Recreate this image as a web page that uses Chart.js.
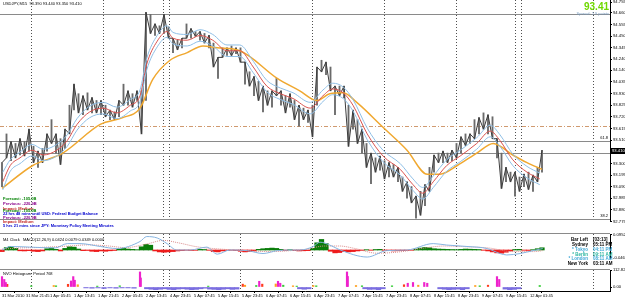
<!DOCTYPE html>
<html>
<head>
<meta charset="utf-8">
<title>USDJPY,M15</title>
<script src="https://cdn.jsdelivr.net/npm/chart.js@4.4.1/dist/chart.umd.min.js"></script>
<style>
  html, body { margin: 0; padding: 0; background: #fff; }
  #wrap { position: relative; width: 625px; height: 301px; overflow: hidden; }
  #wrap canvas { position: absolute; left: 0; }
</style>
</head>
<body>
<div id="wrap">
  <canvas id="main" width="625" height="236" style="top:0"></canvas>
  <canvas id="macd" width="625" height="40" style="top:231px"></canvas>
  <canvas id="nvo" width="625" height="34" style="top:267px"></canvas>
</div>
<script>
(function () {
    'use strict';

    // ------------------------------------------------------------------
    // Data (x = bar index on the M15 chart)
    // ------------------------------------------------------------------
    var sampleBars = [0,6,12,18,24,30,36,42,48,54,60,66,72,78,84,90,96,102,108,114,
        120,126,132,138,144,150,156,162,168,174,180,186,192,198,204,210,216,222,228,234,
        240,246,252,258,264,270,276,282,288,294,300,306,312,318,324,330,336,342,348,354,
        360,366,372,378,384,390,396,402,408,414,420,426,432,438,444,450,456,462,468,474,
        480,486,492,498,504,510,516,522,528,534,540,546,552,558,564,570,576,582,588,594,
        600,606,612,618,624,630,636,642,648,654,660,666,672,678,684,690,696,702,708,714,
        720];

    var priceHigh = [93.307,93.566,93.497,93.480,93.523,93.497,93.609,93.454,93.411,93.436,
        93.566,93.695,93.566,93.523,93.609,93.825,94.015,93.929,93.911,93.937,
        93.894,93.868,93.868,93.825,93.782,93.765,93.868,94.015,93.955,93.929,
        93.955,93.955,94.663,94.645,94.559,94.542,94.645,94.533,94.430,94.412,
        94.430,94.559,94.516,94.490,94.490,94.473,94.455,94.386,94.257,94.343,
        94.343,94.360,94.343,94.343,94.214,94.127,94.084,94.041,93.998,93.955,
        93.955,94.067,93.955,93.911,93.929,93.868,93.825,93.799,93.782,93.825,
        94.170,94.231,94.214,94.170,93.998,93.998,93.998,93.825,93.782,93.695,
        93.609,93.480,93.393,93.350,93.367,93.324,93.307,93.290,93.264,93.177,
        93.134,93.091,93.005,93.048,93.108,93.264,93.376,93.393,93.411,93.393,
        93.419,93.480,93.540,93.566,93.566,93.695,93.713,93.756,93.739,93.721,
        93.523,93.393,93.264,93.221,93.221,93.177,93.203,93.221,93.195,93.264,
        93.419];

    var priceLow = [93.091,93.350,93.324,93.350,93.376,93.367,93.411,93.307,93.264,93.307,
        93.411,93.480,93.393,93.290,93.436,93.566,93.782,93.756,93.739,93.782,
        93.756,93.756,93.739,93.721,93.695,93.695,93.721,93.825,93.825,93.808,
        93.868,93.566,93.868,94.473,94.455,94.473,94.473,94.430,94.300,94.326,
        94.343,94.430,94.430,94.447,94.412,94.386,94.343,94.170,94.067,94.257,
        94.274,94.274,94.291,94.214,94.015,93.998,93.911,93.868,93.765,93.825,
        93.808,93.911,93.825,93.756,93.808,93.695,93.635,93.695,93.670,93.540,
        93.825,94.127,94.101,93.955,93.739,93.911,93.894,93.454,93.609,93.480,
        93.393,93.264,93.117,93.221,93.238,93.160,93.177,93.177,93.134,93.048,
        92.987,92.944,92.806,92.832,92.918,93.048,93.221,93.307,93.307,93.307,
        93.324,93.350,93.393,93.462,93.480,93.523,93.566,93.609,93.566,93.523,
        93.350,93.074,93.134,93.134,93.005,93.048,93.091,93.065,93.048,93.134,
        93.221];

    var redBars = [1,11,24,40,55,73,87,100,117,135,153,171,184,193,207,220,228,247,264,281,
        300,317,335,353,371,388,411,428,441,455,468,487,508,531,548,561,575,593,611,633,
        651,664,681,700,717];
    var redMA = [93.134,93.281,93.350,93.419,93.376,93.419,93.506,93.652,93.765,93.799,
        93.756,93.825,93.911,94.196,94.404,94.490,94.430,94.412,94.455,94.412,
        94.317,94.317,94.170,93.998,93.929,93.886,93.799,93.911,93.972,93.937,
        93.825,93.566,93.367,93.246,93.108,93.031,93.134,93.281,93.367,93.480,
        93.592,93.506,93.333,93.221,93.160];
    var upperBand = [93.220,93.333,93.402,93.471,93.428,93.471,93.558,93.704,93.817,93.851,
        93.808,93.877,93.963,94.248,94.456,94.542,94.482,94.464,94.507,94.464,
        94.369,94.369,94.222,94.050,93.981,93.938,93.851,93.963,94.024,93.989,
        93.877,93.618,93.419,93.298,93.160,93.083,93.186,93.333,93.419,93.532,
        93.644,93.558,93.385,93.273,93.212];
    var lowerBand = [93.060,93.229,93.298,93.367,93.324,93.367,93.454,93.600,93.713,93.747,
        93.704,93.773,93.859,94.144,94.352,94.438,94.378,94.360,94.403,94.360,
        94.265,94.265,94.118,93.946,93.877,93.834,93.747,93.859,93.920,93.885,
        93.773,93.514,93.315,93.194,93.056,92.979,93.082,93.229,93.315,93.428,
        93.540,93.454,93.281,93.169,93.108];

    var orangeBars = [0,41,81,131,161,184,201,224,247,268,287,317,367,397,420,437,455,473,
        508,540,567,584,607,633,655,681,700,720];
    var orangeMA = [93.074,93.281,93.393,93.652,93.713,93.799,94.058,94.231,94.300,94.360,
        94.343,94.317,94.067,93.955,93.868,93.929,93.937,93.851,93.626,93.419,
        93.203,93.203,93.281,93.393,93.480,93.376,93.307,93.246];

    var priceTicks = [94.755,94.660,94.555,94.450,94.345,94.240,94.140,94.035,93.930,93.825,
        93.720,93.615,93.510,93.300,93.195,93.090,92.985,92.880,92.775];
    var solidLevels = [94.645, 93.506, 93.393, 92.797];
    var dashLevels = [93.635];
    var lastPrice = 93.410;

    var separatorBars = [39,135,215,223,413,509,605,684,692,788];
    var subSeparatorBars = [39,135,215,223,317,413,509,605,684,692,788];

    var timeBars = [0,32,64,96,128,160,192,224,256,288,320,352,384,416,448,480,512,544,576,608,640,672,704];
    var timeLabels = ['31 Mar 2010','31 Mar 21:45','1 Apr 05:45','1 Apr 13:45','1 Apr 21:45',
        '2 Apr 05:45','2 Apr 13:45','4 Apr 23:45','5 Apr 07:45','5 Apr 15:45','5 Apr 23:45',
        '6 Apr 07:45','6 Apr 15:45','6 Apr 23:45','7 Apr 07:45','7 Apr 15:45','7 Apr 23:45',
        '8 Apr 07:45','8 Apr 15:45','8 Apr 23:45','9 Apr 07:45','9 Apr 15:45','12 Apr 01:45'];

    var macdHist = [-0.010,0.015,0.022,0.010,-0.005,-0.006,-0.004,-0.008,-0.010,-0.006,
        0.008,0.012,0.004,-0.006,0.010,0.020,0.018,0.006,-0.004,-0.003,
        -0.008,-0.010,-0.006,-0.008,-0.005,-0.003,0.006,0.010,0.006,0.004,
        0.002,0.020,0.035,0.030,-0.006,-0.012,-0.014,-0.012,-0.010,-0.006,
        -0.004,-0.002,-0.003,-0.002,0.004,0.003,-0.002,-0.010,-0.012,-0.006,
        -0.003,-0.002,-0.004,-0.008,-0.012,-0.010,-0.006,0.004,0.008,0.010,
        0.012,0.010,0.004,-0.003,0.002,-0.004,-0.006,-0.005,-0.004,0.010,
        0.045,0.066,0.040,-0.008,-0.018,-0.016,-0.010,-0.012,-0.010,-0.006,
        -0.003,0.002,-0.002,0.003,0.004,-0.002,-0.004,-0.006,-0.005,-0.004,
        -0.003,-0.002,0.006,0.012,0.016,0.014,0.008,0.006,0.005,0.004,
        0.003,0.002,0.004,0.006,0.005,0.004,0.003,-0.002,-0.006,-0.012,
        -0.018,-0.020,-0.014,-0.006,0.003,0.004,-0.002,-0.003,0.002,0.008,
        0.014];
    var macdLineBars = [0,11,37,71,87,104,131,153,184,193,207,220,233,251,273,287,304,327,348,367,
        384,397,415,424,437,451,487,513,540,575,593,620,647,664,673,691,708,721];
    var macdLine = [0,0.022,0.018,0.013,0.040,0.040,0.022,0.009,0.053,0.084,
        0.075,0.040,0,0,0.018,-0.026,0,-0.004,-0.022,-0.004,
        0,0,0.022,0.049,0.031,0,-0.044,-0.004,0,0.040,
        0.031,0.022,0.009,-0.022,-0.031,-0.022,-0.004,0.009];
    var signalBars = [0,20,50,90,115,140,165,195,215,235,260,285,310,340,360,385,405,430,450,470,
        500,530,560,590,620,650,680,710,721];
    var signalLine = [0.005,0.012,0.016,0.025,0.032,0.026,0.015,0.040,0.060,0.045,
        0.020,0.008,0.000,-0.008,-0.010,-0.004,0.004,0.025,0.025,0.010,
        -0.020,-0.012,0.010,0.025,0.020,0.012,-0.010,-0.010,-0.004];
    var macdTicks = [0.0952, -0.0461];

    var nvoDownBars = [112,120,128,136,144,152,160,168,176,
        193,199,205,211,217,223,229,235,241,247,253,259,265,271,277,283,289,295,301,307,313,
        397,403,409, 484,490,496,502,508, 584,590,596,602,608,614,620, 671,677,683,689];
    var nvoDownVals = [-6,-8,-6,-10,-6,-8,-6,-6,-8,
        -12,-15,-18,-15,-12,-16,-18,-14,-12,-15,-18,-16,-12,-8,-14,-16,-18,-15,-12,-16,-14,
        -12,-15,-12, -12,-16,-15,-18,-12, -12,-15,-18,-16,-14,-18,-12, -14,-18,-16,-12];
    var nvoPinkBars = [0,3,5,92,95,97,184,185,343,368,371,460,461,541,548,563,567,660,663];
    var nvoPinkVals = [69,50,30,40,69,45,100,60,38,38,25,100,70,25,30,30,25,69,50];
    var nvoGreenBars = [39,72,127,157,275,339,375,393,419,480,520,637,717];
    var nvoGreenVals = [8,8,6,8,6,10,12,6,8,8,8,8,10];
    var nvoOrangeBars = [69,101,324,365,388,415,472,555,631];
    var nvoOrangeVals = [10,15,12,20,8,10,10,12,10];
    var nvoRedBars = [7,88,321,347,536,648];
    var nvoRedVals = [18,18,19,19,15,12];
    var nvoTicks = [112.826, 0];

    // ------------------------------------------------------------------
    // Helpers
    // ------------------------------------------------------------------
    var FONT = '"Liberation Sans", Arial, sans-serif';
    var X_MIN = -2.667, X_MAX = 810.667;   // 0.75 px per bar over a 610px plot

    function pts(xs, ys) {
        return xs.map(function (x, i) { return { x: x, y: ys[i] }; });
    }
    function ranges(xs, lo, hi) {
        return xs.map(function (x, i) { return { x: x, y: [lo[i], hi[i]] }; });
    }
    // jagged trace through alternating highs and lows, so the bars read as one line
    function zigzag(xs, lo, hi) {
        return xs.map(function (x, i) { return { x: x, y: i % 2 ? lo[i] : hi[i] }; });
    }
    function lineDs(data, color, width, dash, smooth) {
        return {
            type: 'line', data: data, borderColor: color, borderWidth: width,
            borderDash: dash || [], pointRadius: 0, fill: false,
            cubicInterpolationMode: smooth === false ? 'default' : 'monotone'
        };
    }
    function barDs(data, color, thick) {
        return { type: 'bar', data: data, backgroundColor: color, barThickness: thick, grouped: false };
    }

    function xAxis(show) {
        return {
            type: 'linear', min: X_MIN, max: X_MAX, offset: false, display: show,
            grid: { drawOnChartArea: false, tickLength: 2, color: '#000' },
            border: { display: true, color: '#000' },
            afterBuildTicks: function (s) {
                s.ticks = timeBars.map(function (v) { return { value: v }; });
            },
            afterFit: function (s) {
                s.height = 10;
                s.paddingLeft = 0; s.paddingRight = 0;
            },
            ticks: {
                autoSkip: false, maxRotation: 0, minRotation: 0, align: 'start', padding: 0,
                font: { size: 4, family: FONT }, color: '#000',
                callback: function (v, i) { return timeLabels[i]; }
            }
        };
    }

    function yAxis(min, max, ticks, fmt) {
        return {
            position: 'right', min: min, max: max,
            grid: { drawOnChartArea: false, tickLength: 2, color: '#000' },
            border: { color: '#000' },
            afterBuildTicks: function (s) {
                s.ticks = ticks.map(function (v) { return { value: v }; });
            },
            afterFit: function (s) {
                s.width = 15;
                s.paddingTop = 0; s.paddingBottom = 0;
            },
            ticks: { autoSkip: false, padding: 1, font: { size: 4.2, family: FONT }, color: '#000', callback: fmt }
        };
    }

    function text(ctx, str, x, y, color, font, align) {
        ctx.font = font;
        ctx.fillStyle = color;
        ctx.textAlign = align || 'left';
        ctx.textBaseline = 'middle';
        ctx.fillText(str, x, y);
    }

    function drawSeparators(chart, bars) {
        var ctx = chart.ctx, a = chart.chartArea, xs = chart.scales.x;
        ctx.save();
        ctx.strokeStyle = '#505050';
        ctx.lineWidth = 1;
        ctx.setLineDash([1, 2]);
        bars.forEach(function (b) {
            var px = Math.round(xs.getPixelForValue(b)) + 0.5;
            ctx.beginPath(); ctx.moveTo(px, a.top); ctx.lineTo(px, a.bottom); ctx.stroke();
        });
        ctx.restore();
    }

    // ------------------------------------------------------------------
    // Overlays
    // ------------------------------------------------------------------
    var mainOverlay = {
        id: 'mainOverlay',
        beforeDatasetsDraw: function (chart) {
            var ctx = chart.ctx, a = chart.chartArea, ys = chart.scales.y;
            drawSeparators(chart, separatorBars);
            ctx.save();
            ctx.lineWidth = 1;
            ctx.strokeStyle = '#8a8a8a';
            solidLevels.forEach(function (p) {
                var py = Math.round(ys.getPixelForValue(p)) + 0.5;
                ctx.beginPath(); ctx.moveTo(a.left, py); ctx.lineTo(a.right, py); ctx.stroke();
            });
            ctx.strokeStyle = '#d09a70';
            ctx.setLineDash([4, 2, 1, 2]);
            dashLevels.forEach(function (p) {
                var py = Math.round(ys.getPixelForValue(p)) + 0.5;
                ctx.beginPath(); ctx.moveTo(a.left, py); ctx.lineTo(a.right, py); ctx.stroke();
            });
            ctx.restore();
        },
        afterDraw: function (chart) {
            var ctx = chart.ctx, ys = chart.scales.y;
            var small = '4px ' + FONT, smallB = 'bold 4px ' + FONT;
            ctx.save();
            text(ctx, 'USDJPY,M15  93.390 93.440 93.350 93.410', 3, 4, '#000', small);
            text(ctx, '93.41', 609, 7.5, '#6fd800', 'bold 10px ' + FONT, 'right');
            text(ctx, 'Spread: 2.9 points', 609, 14, '#7a9cbf', small, 'right');
            text(ctx, '61.8', 608, ys.getPixelForValue(solidLevels[1]) - 3, '#000', small, 'right');
            text(ctx, '38.2', 608, ys.getPixelForValue(solidLevels[3]) - 3, '#000', small, 'right');

            text(ctx, 'Forecast: -105.0B', 3, 199, '#008000', smallB);
            text(ctx, 'Previous: -220.9B', 3, 204, '#8b008b', smallB);
            text(ctx, 'Impact: Medium', 3, 208.5, '#c02020', smallB);
            text(ctx, 'Forecast: -105.0B', 3, 211, '#008000', smallB);
            text(ctx, '22 hrs 48 mins until USD: Federal Budget Balance', 3, 213.5, '#0000cd', smallB);
            text(ctx, 'Previous: -220.9B', 3, 217.5, '#8b008b', smallB);
            text(ctx, 'Impact: Medium', 3, 221.5, '#c02020', smallB);
            text(ctx, '5 hrs 21 mins since JPY: Monetary Policy Meeting Minutes', 3, 226, '#0000cd', smallB);

            // bid label on the price axis
            var py = ys.getPixelForValue(lastPrice);
            ctx.fillStyle = '#000';
            ctx.fillRect(610, Math.round(py) - 3, 15, 6);
            text(ctx, lastPrice.toFixed(3), 612, py, '#fff', '4.2px ' + FONT);
            ctx.restore();
        }
    };

    function paneOverlay(id, drawTexts) {
        return {
            id: id,
            beforeDatasetsDraw: function (chart) {
                var ctx = chart.ctx, a = chart.chartArea;
                ctx.save();
                ctx.strokeStyle = '#8a8a8a';
                ctx.lineWidth = 1;
                ctx.beginPath(); ctx.moveTo(0, a.top - 0.5); ctx.lineTo(a.right, a.top - 0.5); ctx.stroke();
                ctx.restore();
                drawSeparators(chart, subSeparatorBars);
            },
            afterDraw: function (chart) {
                chart.ctx.save();
                drawTexts(chart.ctx, chart.chartArea);
                chart.ctx.restore();
            }
        };
    }

    var clockRows = [
        ['Bar Left', '[03:13]', '#000'],
        ['Sydney', '05:11 PM', '#000'],
        ['* Tokyo', '04:11 PM', '#3fa7d6'],
        ['* Berlin', '09:11 AM', '#2bb5a0'],
        ['* London', '08:11 AM', '#3fa7d6'],
        ['New York', '03:11 AM', '#000']
    ];

    var macdOverlay = paneOverlay('macdOverlay', function (ctx, a) {
        text(ctx, 'M4 Clock', 3, a.top + 6, '#000', '4px ' + FONT);
        text(ctx, 'MACD(12,26,9) 0.0424 0.0079 0.0349 0.0000', 23, a.top + 6, '#000', '4px ' + FONT);
        clockRows.forEach(function (r, i) {
            var y = a.top + 6 + i * 4.8;
            text(ctx, r[0], 588, y, r[2], 'bold 4.5px ' + FONT, 'right');
            text(ctx, r[1], 593, y, r[2], 'bold 4.5px ' + FONT);
        });
    });

    var nvoOverlay = paneOverlay('nvoOverlay', function (ctx, a) {
        text(ctx, 'NVO Histogram: Period 768', 3, a.top + 4, '#000', '4px ' + FONT);
    });

    var common = {
        responsive: false, devicePixelRatio: 1, animation: false,
        plugins: { legend: { display: false }, tooltip: { enabled: false } }
    };
    function opts(extra) {
        var o = {};
        Object.keys(common).forEach(function (k) { o[k] = common[k]; });
        Object.keys(extra).forEach(function (k) { o[k] = extra[k]; });
        return o;
    }

    // ------------------------------------------------------------------
    // Price pane
    // ------------------------------------------------------------------
    new Chart(document.getElementById('main'), {
        type: 'bar',
        data: {
            datasets: [
                lineDs(pts(redBars, upperBand), '#8fbfe6', 1),
                lineDs(pts(redBars, lowerBand), '#8fbfe6', 1),
                lineDs(pts(redBars, redMA), '#d9534f', 1),
                lineDs(pts(orangeBars, orangeMA), '#f0a830', 1.5),
                lineDs(zigzag(sampleBars, priceLow, priceHigh), '#3c3c3c', 1, null, false),
                barDs(ranges(sampleBars, priceLow, priceHigh), '#6a6a6a', 1.2)
            ]
        },
        options: opts({
            layout: { padding: { top: 0, left: 0, right: 0, bottom: 5 } },
            scales: {
                x: xAxis(false),
                y: yAxis(92.78, 94.775, priceTicks, function (v) { return v.toFixed(3); })
            }
        }),
        plugins: [mainOverlay]
    });

    // ------------------------------------------------------------------
    // MACD pane
    // ------------------------------------------------------------------
    new Chart(document.getElementById('macd'), {
        type: 'bar',
        data: {
            datasets: [
                lineDs(pts(macdLineBars, macdLine), '#86b4e0', 1),
                lineDs(pts(signalBars, signalLine), '#d98a8a', 1, [1, 1]),
                {
                    type: 'bar', data: pts(sampleBars, macdHist), barThickness: 4.6, grouped: false,
                    backgroundColor: function (c) {
                        var v = c.raw ? c.raw.y : 0;
                        return v >= 0 ? '#0a7d0a' : '#ee1c1c';
                    }
                }
            ]
        },
        options: opts({
            layout: { padding: { top: 3, left: 0, right: 0, bottom: 3 } },
            scales: {
                x: xAxis(false),
                y: yAxis(-0.05, 0.1, macdTicks, function (v) { return v.toFixed(4); })
            }
        }),
        plugins: [macdOverlay]
    });

    // ------------------------------------------------------------------
    // NVO histogram pane (with the time axis)
    // ------------------------------------------------------------------
    new Chart(document.getElementById('nvo'), {
        type: 'bar',
        data: {
            datasets: [
                barDs(pts(nvoPinkBars, nvoPinkVals), '#ee22cc', 1.5),
                barDs(pts(nvoRedBars, nvoRedVals), '#ff3c1e', 1.5),
                barDs(pts(nvoOrangeBars, nvoOrangeVals), '#ffa020', 1.5),
                barDs(pts(nvoGreenBars, nvoGreenVals), '#33cc33', 1.5),
                barDs(pts(nvoDownBars, nvoDownVals), '#7b6ee0', 4.6)
            ]
        },
        options: opts({
            layout: { padding: { top: 3, left: 0, right: 0, bottom: 0 } },
            scales: {
                x: xAxis(true),
                y: yAxis(-26.5, 112.826, nvoTicks, function (v) { return v === 0 ? '0.00' : v.toFixed(3); })
            }
        }),
        plugins: [nvoOverlay]
    });
})();
</script>
</body>
</html>
